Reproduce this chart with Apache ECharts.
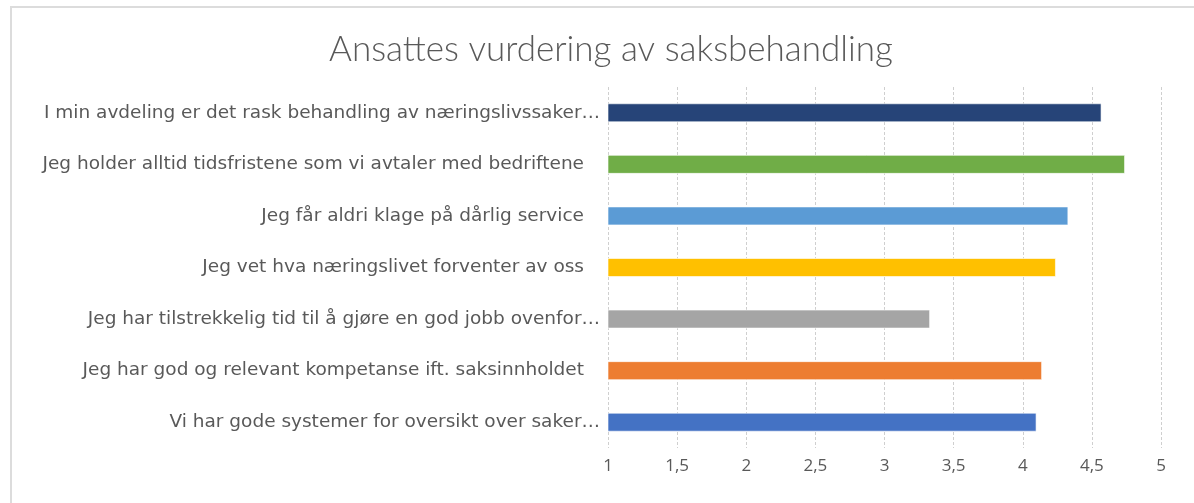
<!DOCTYPE html>
<html>
<head>
<meta charset="utf-8">
<script src="https://cdn.jsdelivr.net/npm/echarts@6/dist/echarts.min.js"></script>
<style>
  html, body { margin: 0; padding: 0; background: #fff; }
  #chart { width: 1194px; height: 503px; }
</style>
</head>
<body>
<div id="chart"></div>
<script>
// categories, bottom to top (as ECharts draws a category y axis)
const categories = [
    'Vi har gode systemer for oversikt over saker…',
    'Jeg har god og relevant kompetanse ift. saksinnholdet',
    'Jeg har tilstrekkelig tid til å gjøre en god jobb ovenfor…',
    'Jeg vet hva næringslivet forventer av oss',
    'Jeg får aldri klage på dårlig service',
    'Jeg holder alltid tidsfristene som vi avtaler med bedriftene',
    'I min avdeling er det rask behandling av næringslivssaker…',
];
const scores = [4.10, 4.14, 3.33, 4.24, 4.33, 4.74, 4.57];
const barColors = ['#4472C4', '#ED7D31', '#A5A5A5', '#FFC000', '#5B9BD5', '#70AD47', '#264478'];

const TEXT = '#595959';

const myChart = echarts.init(document.getElementById('chart'));

const option = {
    backgroundColor: '#fff',
    animation: false,
    title: {
        text: 'Ansattes vurdering av saksbehandling',
        left: 606,
        textAlign: 'center',
        top: 27,
        textStyle: {
            fontFamily: 'Lato',
            fontWeight: 300,
            fontSize: 35,
            color: TEXT,
        },
    },
    graphic: [{
        type: 'rect',
        shape: { x: 11, y: 7, width: 1300, height: 600 },
        style: { fill: 'none', stroke: '#dcdcdc', lineWidth: 2 },
        silent: true,
    }],
    grid: {
        left: 608,
        right: 33,
        top: 87,
        bottom: 55,
    },
    xAxis: {
        type: 'value',
        min: 1,
        max: 5,
        interval: 0.5,
        axisLine: { show: false },
        axisTick: { show: false },
        axisLabel: {
            color: TEXT,
            fontFamily: 'Open Sans',
            fontSize: 17,
            margin: 10,
            formatter: v => String(v).replace('.', ','),
        },
        splitLine: {
            show: true,
            lineStyle: { color: '#cfcfcf', type: [3, 2], width: 1 },
        },
    },
    yAxis: {
        type: 'category',
        data: categories,
        axisLine: { show: false },
        axisTick: { show: false },
        axisLabel: {
            color: TEXT,
            fontFamily: 'DejaVu Sans',
            fontSize: 18.5,
            margin: 8,
            formatter: v => v.endsWith('…') ? v : '{p|' + v + '}',
            rich: {
                p: {
                    color: TEXT,
                    fontFamily: 'DejaVu Sans',
                    fontSize: 18.5,
                    padding: [0, 16, 0, 0],
                },
            },
        },
        splitLine: { show: false },
    },
    series: [{
        type: 'bar',
        data: scores.map((v, i) => ({
            value: v,
            itemStyle: { color: barColors[i] },
        })),
        barWidth: 19,
        itemStyle: {
            borderColor: 'rgba(255,255,255,0.6)',
            borderWidth: 1,
        },
    }],
};

myChart.setOption(option);
</script>
</body>
</html>
